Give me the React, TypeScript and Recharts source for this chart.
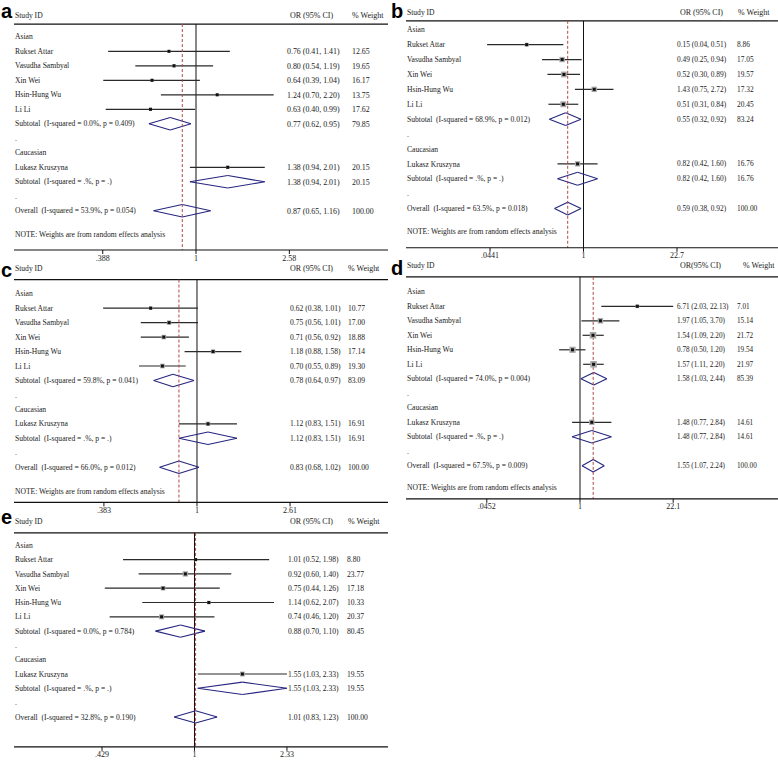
import { ComposedChart, ReferenceLine, Scatter, XAxis, YAxis } from 'recharts';

const asianStudies = ['Rukset Attar', 'Vasudha Sambyal', 'Xin Wei', 'Hsin-Hung Wu', 'Li Li'];
const caucasianStudies = ['Lukasz Kruszyna'];
const noteText = 'NOTE: Weights are from random effects analysis';

// order of values: 5 Asian studies, Asian subtotal, Lukasz Kruszyna, Caucasian subtotal, Overall
const aOR = [0.76, 0.8, 0.64, 1.24, 0.63, 0.77, 1.38, 1.38, 0.87];
const aLow = [0.41, 0.54, 0.39, 0.7, 0.4, 0.62, 0.94, 0.94, 0.65];
const aHigh = [1.41, 1.19, 1.04, 2.2, 0.99, 0.95, 2.01, 2.01, 1.16];
const aWeight = [12.65, 19.65, 16.17, 13.75, 17.62, 79.85, 20.15, 20.15, 100];
const aISq = ['0.0%', '.%', '53.9%'];
const aP = ['0.409', '.', '0.054'];
const aTicks = ['.388', '1', '2.58'];

const bOR = [0.15, 0.49, 0.52, 1.43, 0.51, 0.55, 0.82, 0.82, 0.59];
const bLow = [0.04, 0.25, 0.3, 0.75, 0.31, 0.32, 0.42, 0.42, 0.38];
const bHigh = [0.51, 0.94, 0.89, 2.72, 0.84, 0.92, 1.6, 1.6, 0.92];
const bWeight = [8.86, 17.05, 19.57, 17.32, 20.45, 83.24, 16.76, 16.76, 100];
const bISq = ['68.9%', '.%', '63.5%'];
const bP = ['0.012', '.', '0.018'];
const bTicks = ['.0441', '1', '22.7'];

const cOR = [0.62, 0.75, 0.71, 1.18, 0.7, 0.78, 1.12, 1.12, 0.83];
const cLow = [0.38, 0.56, 0.56, 0.88, 0.55, 0.64, 0.83, 0.83, 0.68];
const cHigh = [1.01, 1.01, 0.92, 1.58, 0.89, 0.97, 1.51, 1.51, 1.02];
const cWeight = [10.77, 17.0, 18.88, 17.14, 19.3, 83.09, 16.91, 16.91, 100];
const cISq = ['59.8%', '.%', '66.0%'];
const cP = ['0.041', '.', '0.012'];
const cTicks = ['.383', '1', '2.61'];

const dOR = [6.71, 1.97, 1.54, 0.78, 1.57, 1.58, 1.48, 1.48, 1.55];
const dLow = [2.03, 1.05, 1.09, 0.5, 1.11, 1.03, 0.77, 0.77, 1.07];
const dHigh = [22.13, 3.7, 2.2, 1.2, 2.2, 2.44, 2.84, 2.84, 2.24];
const dWeight = [7.01, 15.14, 21.72, 19.54, 21.97, 85.39, 14.61, 14.61, 100];
const dISq = ['74.0%', '.%', '67.5%'];
const dP = ['0.004', '.', '0.009'];
const dTicks = ['.0452', '1', '22.1'];

const eOR = [1.01, 0.92, 0.75, 1.14, 0.74, 0.88, 1.55, 1.55, 1.01];
const eLow = [0.52, 0.6, 0.44, 0.62, 0.46, 0.7, 1.03, 1.03, 0.83];
const eHigh = [1.98, 1.4, 1.26, 2.07, 1.2, 1.1, 2.33, 2.33, 1.23];
const eWeight = [8.8, 23.77, 17.18, 10.33, 20.37, 80.45, 19.55, 19.55, 100];
const eISq = ['0.0%', '.%', '32.8%'];
const eP = ['0.784', '.', '0.190'];
const eTicks = ['.429', '1', '2.33'];

const FONT = '"Liberation Serif", "Times New Roman", serif';
const TEXT = '#1a1a1a';
const DIAMOND = '#262680';
const RED = '#b04848';

type Row = { pos: number; kind: string; label: string; idx: number };

const buildRows = (isq: string[], p: string[], noteRow: number | null, headRow: number): Row[] => {
  const rows: Row[] = [{ pos: headRow, kind: 'head', label: 'Study ID', idx: -1 }];
  rows.push({ pos: 0, kind: 'group', label: 'Asian', idx: -1 });
  asianStudies.forEach((s, i) => rows.push({ pos: i + 1, kind: 'study', label: s, idx: i }));
  rows.push({ pos: 6, kind: 'pooled', label: `Subtotal  (I-squared = ${isq[0]}, p = ${p[0]})`, idx: 5 });
  rows.push({ pos: 7, kind: 'dot', label: '.', idx: -1 });
  rows.push({ pos: 8, kind: 'group', label: 'Caucasian', idx: -1 });
  caucasianStudies.forEach((s, i) => rows.push({ pos: 9 + i, kind: 'study', label: s, idx: 6 + i }));
  rows.push({ pos: 10, kind: 'pooled', label: `Subtotal  (I-squared = ${isq[1]}, p = ${p[1]})`, idx: 7 });
  rows.push({ pos: 11, kind: 'dot', label: '.', idx: -1 });
  rows.push({ pos: 12, kind: 'pooled', label: `Overall  (I-squared = ${isq[2]}, p = ${p[2]})`, idx: 8 });
  if (noteRow !== null) rows.push({ pos: noteRow, kind: 'note', label: noteText, idx: -1 });
  return rows;
};

const panels = [
  {
    letter: 'a', or: aOR, low: aLow, high: aHigh, weight: aWeight, isq: aISq, p: aP, ticks: aTicks, orHead: 'OR (95% CI)',
    ox: 0, firstRow: 36.8, step: 14.5, axisY: 250, headText: -1.5, headLine: -0.88, noteRow: 13.6, valSize: 7.9,
    center: 196, k: 98.5, plotLeft: 14, orX: 287, orHeadX: 290, wX: 352, wHeadX: 352, box: 0.75, letterX: 1, letterBase: 18,
  },
  {
    letter: 'b', or: bOR, low: bLow, high: bHigh, weight: bWeight, isq: bISq, p: bP, ticks: bTicks, orHead: 'OR (95% CI)',
    ox: 390, firstRow: 30, step: 14.9, axisY: 248, headText: -1.15, headLine: -0.6, noteRow: 13.5, valSize: 7.4,
    center: 193.5, k: 29.95, plotLeft: 16, orX: 287, orHeadX: 290, wX: 347, wHeadX: 348, box: 1.3, letterX: 391, letterBase: 18,
  },
  {
    letter: 'c', or: cOR, low: cLow, high: cHigh, weight: cWeight, isq: cISq, p: cP, ticks: cTicks, orHead: 'OR (95% CI)',
    ox: 0, firstRow: 293.3, step: 14.46, axisY: 502, headText: -1.75, headLine: -0.98, noteRow: 13.67, valSize: 7.6,
    center: 197, k: 97, plotLeft: 14, orX: 290, orHeadX: 290, wX: 348, wHeadX: 348, box: 1.05, letterX: 1, letterBase: 277,
  },
  {
    letter: 'd', or: dOR, low: dLow, high: dHigh, weight: dWeight, isq: dISq, p: dP, ticks: dTicks, orHead: 'OR(95% CI)',
    ox: 390, firstRow: 292, step: 14.5, axisY: 499, headText: -1.8, headLine: -1.03, noteRow: 13.5, valSize: 7.2,
    center: 190, k: 30.1, plotLeft: 16, orX: 287, orHeadX: 290, wX: 347, wHeadX: 353, box: 1.4, letterX: 391, letterBase: 275,
  },
  {
    letter: 'e', or: eOR, low: eLow, high: eHigh, weight: eWeight, isq: eISq, p: eP, ticks: eTicks, orHead: 'OR (95% CI)',
    ox: 0, firstRow: 545.5, step: 14.3, axisY: 747, headText: -1.71, headLine: -0.87, noteRow: null, valSize: 7.6,
    center: 194.5, k: 109.3, plotLeft: 14, orX: 288, orHeadX: 290, wX: 347, wHeadX: 348, box: 1.1, letterX: 1, letterBase: 524,
  },
];

const W = 388;
const TOP_ROW = -2.4;
const fmt = (v: number) => v.toFixed(2);

const ForestPanel = ({ cfg }: { cfg: (typeof panels)[number] }) => {
  const rows = buildRows(cfg.isq, cfg.p, cfg.noteRow, cfg.headText);
  const plotTop = cfg.firstRow + TOP_ROW * cfg.step;
  const yMax = (cfg.axisY - cfg.firstRow) / cfg.step;
  const height = cfg.axisY - plotTop + 16;
  const xDomain = [Math.exp((cfg.plotLeft - cfg.center) / cfg.k), Math.exp((W - cfg.center) / cfg.k)];
  const tickValues = cfg.ticks.map(Number);
  const studies = rows.filter((r) => r.kind === 'study').map((r) => ({ x: cfg.or[r.idx], y: r.pos, w: cfg.weight[r.idx] }));
  const textRows = rows.map((r) => ({ x: 1, y: r.pos, row: r }));
  const pooled = rows.filter((r) => r.kind === 'pooled');
  const overall = cfg.or[8];
  const h = 0.43;

  // the text columns sit at fixed x positions; their y comes from the row scale
  const renderText = (props: any) => {
    const row: Row = props.payload.row;
    const common = {
      fontFamily: FONT,
      fontSize: 7.6,
      fill: TEXT,
      dy: '0.35em',
      y: props.cy,
      style: { whiteSpace: 'pre' as const },
    };
    const head = { ...common, fontSize: 8 };
    const vals = { ...common, fontSize: cfg.valSize };
    const out = [
      <text key='l' x={cfg.plotLeft + 1} {...common}>
        {row.label}
      </text>,
    ];
    if (row.kind === 'head') {
      out.push(<text key='o' x={cfg.orHeadX} {...head}>{cfg.orHead}</text>);
      out.push(<text key='w' x={cfg.wHeadX} {...head}>% Weight</text>);
    }
    if (row.kind === 'study' || row.kind === 'pooled') {
      const i = row.idx;
      out.push(
        <text key='o' x={cfg.orX} {...vals}>
          {`${fmt(cfg.or[i])} (${fmt(cfg.low[i])}, ${fmt(cfg.high[i])})`}
        </text>
      );
      out.push(<text key='w' x={cfg.wX} {...vals}>{fmt(cfg.weight[i])}</text>);
    }
    return <g>{out}</g>;
  };

  return (
    <div style={{ position: 'absolute', left: cfg.ox, top: plotTop }}>
      <ComposedChart width={W} height={height} margin={{ top: 0, right: 0, bottom: 0, left: cfg.plotLeft }}>
        <XAxis
          type='number'
          dataKey='x'
          scale='log'
          domain={xDomain}
          allowDataOverflow
          ticks={tickValues}
          interval={0}
          height={16}
          tickSize={4}
          tickMargin={1}
          tickFormatter={(v: number) => cfg.ticks[tickValues.indexOf(v)] ?? ''}
          tick={{ fontFamily: FONT, fontSize: 8, fill: TEXT }}
          axisLine={{ stroke: '#111', strokeWidth: 1.2 }}
          tickLine={{ stroke: '#111' }}
        />
        <YAxis type='number' dataKey='y' domain={[TOP_ROW, yMax]} reversed allowDataOverflow hide />
        <ReferenceLine y={cfg.headLine} stroke='#111' strokeWidth={1.2} ifOverflow='visible' />
        <ReferenceLine
          segment={[{ x: 1, y: cfg.headLine }, { x: 1, y: yMax }]}
          stroke='#111'
          strokeWidth={1}
          ifOverflow='visible'
        />
        {rows
          .filter((r) => r.kind === 'study')
          .map((r) => (
            <ReferenceLine
              key={`ci${r.pos}`}
              segment={[{ x: cfg.low[r.idx], y: r.pos }, { x: cfg.high[r.idx], y: r.pos }]}
              stroke='#2a2a2a'
              strokeWidth={1.2}
              ifOverflow='visible'
            />
          ))}
        {pooled.flatMap((r) => {
          const i = r.idx;
          const pts = [
            { x: cfg.low[i], y: r.pos },
            { x: cfg.or[i], y: r.pos - h },
            { x: cfg.high[i], y: r.pos },
            { x: cfg.or[i], y: r.pos + h },
            { x: cfg.low[i], y: r.pos },
          ];
          return pts.slice(0, 4).map((pt, j) => (
            <ReferenceLine
              key={`dm${r.pos}-${j}`}
              segment={[pt, pts[j + 1]]}
              stroke={DIAMOND}
              strokeWidth={1.1}
              ifOverflow='visible'
            />
          ));
        })}
        <ReferenceLine
          segment={[{ x: overall, y: cfg.headLine }, { x: overall, y: yMax }]}
          stroke={RED}
          strokeWidth={1}
          strokeDasharray='3 2'
          ifOverflow='visible'
        />
        <Scatter
          data={studies}
          dataKey='y'
          isAnimationActive={false}
          shape={(props: any) => {
            const s = cfg.box * Math.sqrt(props.payload.w);
            return (
              <g>
                <rect x={props.cx - s / 2} y={props.cy - s / 2} width={s} height={s} fill='#a8a8a8' />
                <rect x={props.cx - 1.5} y={props.cy - 1.5} width={3} height={3} fill='#111' />
              </g>
            );
          }}
        />
        <Scatter data={textRows} dataKey='y' isAnimationActive={false} shape={renderText} />
      </ComposedChart>
    </div>
  );
};

const App = () => (
  <div style={{ position: 'absolute', left: 0, top: 0, width: 778, height: 762, background: '#fff' }}>
    {panels.map((p) => (
      <div
        key={p.letter}
        style={{
          position: 'absolute',
          left: p.letterX,
          top: p.letterBase - 17,
          fontFamily: '"Liberation Sans", Arial, sans-serif',
          fontWeight: 'bold',
          fontSize: 20,
          lineHeight: '20px',
          color: '#000',
        }}
      >
        {p.letter}
      </div>
    ))}
    {panels.map((p) => (
      <ForestPanel key={p.letter} cfg={p} />
    ))}
  </div>
);

export default App;
